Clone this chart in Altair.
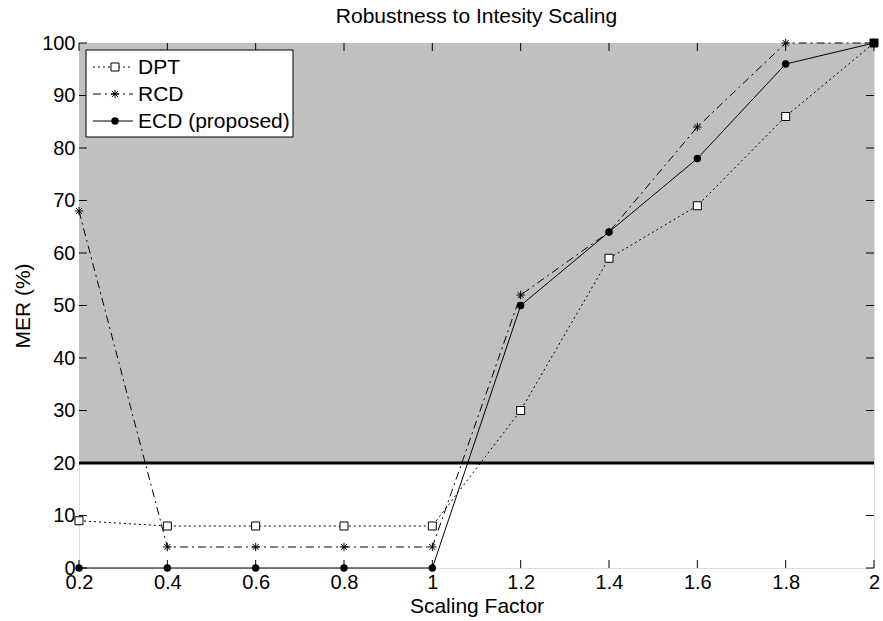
import altair as alt
import pandas as pd

# Scaling factors on the x axis and MER (%) for each method
scaling = [0.2, 0.4, 0.6, 0.8, 1.0, 1.2, 1.4, 1.6, 1.8, 2.0]
dpt = [9, 8, 8, 8, 8, 30, 59, 69, 86, 100]
rcd = [68, 4, 4, 4, 4, 52, 64, 84, 100, 100]
ecd = [0, 0, 0, 0, 0, 50, 64, 78, 96, 100]

legend_labels = ["DPT", "RCD", "ECD (proposed)"]

# Acceptable-error threshold and shaded failure band
threshold = 20
band_top = 100

x_ticks = [0.2, 0.4, 0.6, 0.8, 1.0, 1.2, 1.4, 1.6, 1.8, 2.0]
y_ticks = [0, 10, 20, 30, 40, 50, 60, 70, 80, 90, 100]

W, H = 795, 525
FONT = "Liberation Sans"
TICK = 8

df = pd.DataFrame({"x": scaling, "DPT": dpt, "RCD": rcd, "ECD": ecd})

xs = alt.Scale(domain=[0.2, 2.0], nice=False, zero=False)
ys = alt.Scale(domain=[0, 100], nice=False)

x_axis = alt.Axis(values=x_ticks, title="Scaling Factor",
                  labelExpr="datum.value == 1 || datum.value == 2 ? format(datum.value, 'd') : format(datum.value, '.1f')",
                  tickSize=0, domain=False, grid=False, labelFontSize=20, labelFont=FONT,
                  labelColor="black", labelPadding=4, titleFontSize=21, titleFont=FONT,
                  titleFontWeight="normal", titleColor="black", titlePadding=3,
                  labelFlush=False, labelOverlap=False)
y_axis = alt.Axis(values=y_ticks, title="MER (%)", tickSize=0, domain=False, grid=False,
                  labelFontSize=20, labelFont=FONT, labelColor="black", labelPadding=4,
                  titleFontSize=21, titleFont=FONT, titleFontWeight="normal",
                  titleColor="black", titlePadding=8, labelFlush=False, labelOverlap=False)

band_df = pd.DataFrame({"x0": [scaling[0]], "x1": [scaling[-1]], "lo": [threshold], "hi": [band_top]})
band = alt.Chart(band_df).mark_rect(color="#c0c0c0").encode(
    x=alt.X("x0:Q", scale=xs, axis=x_axis), x2="x1:Q",
    y=alt.Y("lo:Q", scale=ys, axis=y_axis), y2="hi:Q",
)

thr = alt.Chart(pd.DataFrame({"t": [threshold]})).mark_rule(color="black", strokeWidth=3).encode(
    y=alt.Y("t:Q", scale=ys)
)

base = alt.Chart(df)
line_dpt = base.mark_line(color="black", strokeWidth=1, strokeDash=[2, 3]).encode(
    x=alt.X("x:Q", scale=xs), y=alt.Y("DPT:Q", scale=ys))
line_rcd = base.mark_line(color="black", strokeWidth=1, strokeDash=[8, 4, 2, 4]).encode(
    x=alt.X("x:Q", scale=xs), y=alt.Y("RCD:Q", scale=ys))
line_ecd = base.mark_line(color="black", strokeWidth=1).encode(
    x=alt.X("x:Q", scale=xs), y=alt.Y("ECD:Q", scale=ys))

ASTERISK = "M0,-1L0,1M-1,0L1,0M-0.7,-0.7L0.7,0.7M-0.7,0.7L0.7,-0.7"

pt_dpt = base.mark_point(shape="square", size=64, strokeWidth=1, stroke="black", filled=True,
                         opacity=1).encode(
    x=alt.X("x:Q", scale=xs), y=alt.Y("DPT:Q", scale=ys),
    fill=alt.condition("datum.x == 2", alt.value("black"), alt.value("white")))
pt_rcd = base.mark_point(shape=ASTERISK, size=70, strokeWidth=1, color="black", filled=False,
                         opacity=1).encode(
    x=alt.X("x:Q", scale=xs), y=alt.Y("RCD:Q", scale=ys))
pt_ecd = base.mark_point(shape="circle", size=55, color="black", filled=True, opacity=1).encode(
    x=alt.X("x:Q", scale=xs), y=alt.Y("ECD:Q", scale=ys))

# Inward tick marks on all four sides of the frame
xt = alt.Chart(pd.DataFrame({"v": x_ticks}))
yt = alt.Chart(pd.DataFrame({"v": y_ticks}))
ticks = [
    xt.mark_rule(color="black").encode(x=alt.X("v:Q", scale=xs), y=alt.value(H), y2=alt.value(H - TICK)),
    xt.mark_rule(color="black").encode(x=alt.X("v:Q", scale=xs), y=alt.value(0), y2=alt.value(TICK)),
    yt.mark_rule(color="black").encode(y=alt.Y("v:Q", scale=ys), x=alt.value(0), x2=alt.value(TICK)),
    yt.mark_rule(color="black").encode(y=alt.Y("v:Q", scale=ys), x=alt.value(W), x2=alt.value(W - TICK)),
]

# Legend box drawn in the upper-left corner of the plot
leg_box = alt.Chart(alt.Data(values=[{}])).mark_rect(
    fill="white", stroke="black", strokeWidth=1).encode(
    x=alt.value(7), x2=alt.value(214), y=alt.value(7), y2=alt.value(94))

row_y = [24, 51, 78]
dashes = [[2, 3], [8, 4, 2, 4], None]
legend_layers = [leg_box]
for i, name in enumerate(legend_labels):
    src = alt.Chart(alt.Data(values=[{"label": name}]))
    rule_kwargs = dict(color="black", strokeWidth=1)
    if dashes[i] is not None:
        rule_kwargs["strokeDash"] = dashes[i]
    legend_layers.append(src.mark_rule(**rule_kwargs).encode(
        x=alt.value(14), x2=alt.value(54), y=alt.value(row_y[i])))
    if i == 0:
        mk = src.mark_point(shape="square", size=64, strokeWidth=1, stroke="black",
                            fill="white", filled=True, opacity=1)
    elif i == 1:
        mk = src.mark_point(shape=ASTERISK, size=70, strokeWidth=1, color="black",
                            filled=False, opacity=1)
    else:
        mk = src.mark_point(shape="circle", size=55, color="black", filled=True, opacity=1)
    legend_layers.append(mk.encode(x=alt.value(36), y=alt.value(row_y[i])))
    legend_layers.append(src.mark_text(align="left", baseline="middle", font=FONT,
                                       fontSize=21, color="black").encode(
        x=alt.value(59), y=alt.value(row_y[i] + 1), text="label:N"))

chart = alt.layer(
    band, thr, line_dpt, line_rcd, line_ecd, pt_dpt, pt_rcd, pt_ecd, *ticks, *legend_layers
).properties(
    width=W, height=H,
    title=alt.Title("Robustness to Intesity Scaling", font=FONT, fontSize=21,
                    fontWeight="normal", color="black", anchor="middle", offset=6),
    padding={"left": 79, "top": 43, "right": 9, "bottom": 53},
    autosize=alt.AutoSizeParams(type="none"),
).configure_view(stroke="black", strokeWidth=1).configure(background="white")

chart.save("out.html", embed_options={"renderer": "svg", "actions": False})
